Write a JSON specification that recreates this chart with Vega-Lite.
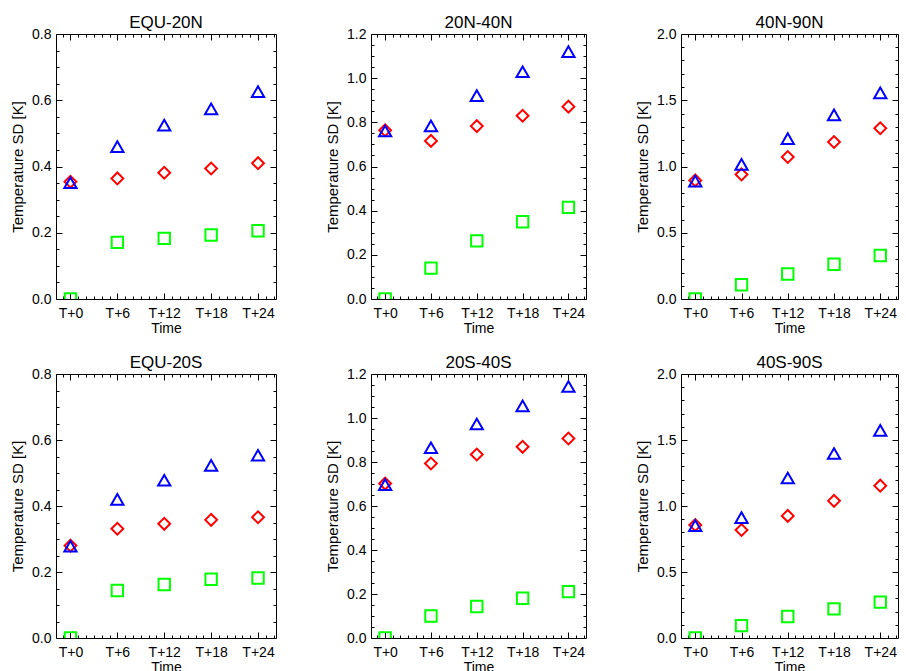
{
  "$schema": "https://vega.github.io/schema/vega-lite/v6.json",
  "padding": {"left": 10, "top": 13, "right": 0, "bottom": 0},
  "background": "white",
  "datasets": {
    "sd": [
      {"region": "EQU-20N", "series": "S3", "hour": 0, "sd": 0},
      {"region": "EQU-20N", "series": "S3", "hour": 6, "sd": 0.171},
      {"region": "EQU-20N", "series": "S3", "hour": 12, "sd": 0.183},
      {"region": "EQU-20N", "series": "S3", "hour": 18, "sd": 0.193},
      {"region": "EQU-20N", "series": "S3", "hour": 24, "sd": 0.206},
      {"region": "EQU-20N", "series": "S2", "hour": 0, "sd": 0.354},
      {"region": "EQU-20N", "series": "S2", "hour": 6, "sd": 0.364},
      {"region": "EQU-20N", "series": "S2", "hour": 12, "sd": 0.381},
      {"region": "EQU-20N", "series": "S2", "hour": 18, "sd": 0.394},
      {"region": "EQU-20N", "series": "S2", "hour": 24, "sd": 0.41},
      {"region": "EQU-20N", "series": "S1", "hour": 0, "sd": 0.351},
      {"region": "EQU-20N", "series": "S1", "hour": 6, "sd": 0.46},
      {"region": "EQU-20N", "series": "S1", "hour": 12, "sd": 0.525},
      {"region": "EQU-20N", "series": "S1", "hour": 18, "sd": 0.574},
      {"region": "EQU-20N", "series": "S1", "hour": 24, "sd": 0.626},
      {"region": "20N-40N", "series": "S3", "hour": 0, "sd": 0},
      {"region": "20N-40N", "series": "S3", "hour": 6, "sd": 0.14},
      {"region": "20N-40N", "series": "S3", "hour": 12, "sd": 0.263},
      {"region": "20N-40N", "series": "S3", "hour": 18, "sd": 0.35},
      {"region": "20N-40N", "series": "S3", "hour": 24, "sd": 0.415},
      {"region": "20N-40N", "series": "S2", "hour": 0, "sd": 0.764},
      {"region": "20N-40N", "series": "S2", "hour": 6, "sd": 0.716},
      {"region": "20N-40N", "series": "S2", "hour": 12, "sd": 0.783},
      {"region": "20N-40N", "series": "S2", "hour": 18, "sd": 0.83},
      {"region": "20N-40N", "series": "S2", "hour": 24, "sd": 0.871},
      {"region": "20N-40N", "series": "S1", "hour": 0, "sd": 0.761},
      {"region": "20N-40N", "series": "S1", "hour": 6, "sd": 0.784},
      {"region": "20N-40N", "series": "S1", "hour": 12, "sd": 0.921},
      {"region": "20N-40N", "series": "S1", "hour": 18, "sd": 1.029},
      {"region": "20N-40N", "series": "S1", "hour": 24, "sd": 1.12},
      {"region": "40N-90N", "series": "S3", "hour": 0, "sd": 0},
      {"region": "40N-90N", "series": "S3", "hour": 6, "sd": 0.108},
      {"region": "40N-90N", "series": "S3", "hour": 12, "sd": 0.189},
      {"region": "40N-90N", "series": "S3", "hour": 18, "sd": 0.262},
      {"region": "40N-90N", "series": "S3", "hour": 24, "sd": 0.328},
      {"region": "40N-90N", "series": "S2", "hour": 0, "sd": 0.895},
      {"region": "40N-90N", "series": "S2", "hour": 6, "sd": 0.94},
      {"region": "40N-90N", "series": "S2", "hour": 12, "sd": 1.072},
      {"region": "40N-90N", "series": "S2", "hour": 18, "sd": 1.185},
      {"region": "40N-90N", "series": "S2", "hour": 24, "sd": 1.289},
      {"region": "40N-90N", "series": "S1", "hour": 0, "sd": 0.89},
      {"region": "40N-90N", "series": "S1", "hour": 6, "sd": 1.016},
      {"region": "40N-90N", "series": "S1", "hour": 12, "sd": 1.21},
      {"region": "40N-90N", "series": "S1", "hour": 18, "sd": 1.39},
      {"region": "40N-90N", "series": "S1", "hour": 24, "sd": 1.556},
      {"region": "EQU-20S", "series": "S3", "hour": 0, "sd": 0},
      {"region": "EQU-20S", "series": "S3", "hour": 6, "sd": 0.144},
      {"region": "EQU-20S", "series": "S3", "hour": 12, "sd": 0.162},
      {"region": "EQU-20S", "series": "S3", "hour": 18, "sd": 0.178},
      {"region": "EQU-20S", "series": "S3", "hour": 24, "sd": 0.182},
      {"region": "EQU-20S", "series": "S2", "hour": 0, "sd": 0.28},
      {"region": "EQU-20S", "series": "S2", "hour": 6, "sd": 0.331},
      {"region": "EQU-20S", "series": "S2", "hour": 12, "sd": 0.346},
      {"region": "EQU-20S", "series": "S2", "hour": 18, "sd": 0.358},
      {"region": "EQU-20S", "series": "S2", "hour": 24, "sd": 0.366},
      {"region": "EQU-20S", "series": "S1", "hour": 0, "sd": 0.278},
      {"region": "EQU-20S", "series": "S1", "hour": 6, "sd": 0.42},
      {"region": "EQU-20S", "series": "S1", "hour": 12, "sd": 0.478},
      {"region": "EQU-20S", "series": "S1", "hour": 18, "sd": 0.523},
      {"region": "EQU-20S", "series": "S1", "hour": 24, "sd": 0.554},
      {"region": "20S-40S", "series": "S3", "hour": 0, "sd": 0},
      {"region": "20S-40S", "series": "S3", "hour": 6, "sd": 0.1},
      {"region": "20S-40S", "series": "S3", "hour": 12, "sd": 0.143},
      {"region": "20S-40S", "series": "S3", "hour": 18, "sd": 0.181},
      {"region": "20S-40S", "series": "S3", "hour": 24, "sd": 0.211},
      {"region": "20S-40S", "series": "S2", "hour": 0, "sd": 0.702},
      {"region": "20S-40S", "series": "S2", "hour": 6, "sd": 0.793},
      {"region": "20S-40S", "series": "S2", "hour": 12, "sd": 0.834},
      {"region": "20S-40S", "series": "S2", "hour": 18, "sd": 0.869},
      {"region": "20S-40S", "series": "S2", "hour": 24, "sd": 0.907},
      {"region": "20S-40S", "series": "S1", "hour": 0, "sd": 0.697},
      {"region": "20S-40S", "series": "S1", "hour": 6, "sd": 0.865},
      {"region": "20S-40S", "series": "S1", "hour": 12, "sd": 0.973},
      {"region": "20S-40S", "series": "S1", "hour": 18, "sd": 1.055},
      {"region": "20S-40S", "series": "S1", "hour": 24, "sd": 1.143},
      {"region": "40S-90S", "series": "S3", "hour": 0, "sd": 0},
      {"region": "40S-90S", "series": "S3", "hour": 6, "sd": 0.094},
      {"region": "40S-90S", "series": "S3", "hour": 12, "sd": 0.163},
      {"region": "40S-90S", "series": "S3", "hour": 18, "sd": 0.221},
      {"region": "40S-90S", "series": "S3", "hour": 24, "sd": 0.272},
      {"region": "40S-90S", "series": "S2", "hour": 0, "sd": 0.856},
      {"region": "40S-90S", "series": "S2", "hour": 6, "sd": 0.818},
      {"region": "40S-90S", "series": "S2", "hour": 12, "sd": 0.925},
      {"region": "40S-90S", "series": "S2", "hour": 18, "sd": 1.039},
      {"region": "40S-90S", "series": "S2", "hour": 24, "sd": 1.154},
      {"region": "40S-90S", "series": "S1", "hour": 0, "sd": 0.851},
      {"region": "40S-90S", "series": "S1", "hour": 6, "sd": 0.912},
      {"region": "40S-90S", "series": "S1", "hour": 12, "sd": 1.212},
      {"region": "40S-90S", "series": "S1", "hour": 18, "sd": 1.398},
      {"region": "40S-90S", "series": "S1", "hour": 24, "sd": 1.573}
    ]
  },
  "data": {"name": "sd"},
  "columns": 3,
  "align": "each",
  "spacing": {"row": 17, "column": 48},
  "concat": [
    {
      "title": "EQU-20N", "width": 220, "height": 265,
      "transform": [{"filter": {"field": "region", "equal": "EQU-20N"}}],
      "resolve": {"axis": {"x": "independent", "y": "independent"}},
      "layer": [
        {"mark": {"type": "point", "filled": false, "strokeWidth": 2, "clip": true, "opacity": 1},
         "encoding": {
           "x": {"field": "hour", "type": "quantitative", "scale": {"domain": [-1.85, 26.3], "nice": false, "zero": false}, "axis": {"orient": "bottom", "values": [0, 6, 12, 18, 24], "labelExpr": "'T+' + datum.value", "tickSize": -6, "labelPadding": 13, "title": "Time"}},
           "y": {"field": "sd", "type": "quantitative", "scale": {"domain": [0, 0.8], "nice": false, "zero": false}, "axis": {"orient": "left", "values": [0, 0.2, 0.4, 0.6, 0.8], "format": ".1f", "tickSize": -6, "labelPadding": 11, "title": "Temperature SD [K]"}},
           "shape": {"field": "series", "type": "nominal", "scale": {"domain": ["S1", "S2", "S3"], "range": ["triangle-up", "diamond", "square"]}, "legend": null},
           "color": {"field": "series", "type": "nominal", "scale": {"domain": ["S1", "S2", "S3"], "range": ["#0000ff", "#ff0000", "#00ff00"]}, "legend": null},
           "size": {"field": "series", "type": "nominal", "scale": {"domain": ["S1", "S2", "S3"], "range": [150, 130, 120]}, "legend": null}
         }},
        {"mark": {"type": "point", "opacity": 0},
         "encoding": {
           "x": {"field": "hour", "type": "quantitative", "scale": {"domain": [-1.85, 26.3], "nice": false, "zero": false}, "axis": {"orient": "bottom", "values": [-1, 1, 2, 3, 4, 5, 7, 8, 9, 10, 11, 13, 14, 15, 16, 17, 19, 20, 21, 22, 23, 25, 26], "labels": false, "title": null, "tickSize": -3}},
           "y": {"field": "sd", "type": "quantitative", "scale": {"domain": [0, 0.8], "nice": false, "zero": false}, "axis": {"orient": "left", "values": [0.05, 0.1, 0.15, 0.25, 0.3, 0.35, 0.45, 0.5, 0.55, 0.65, 0.7, 0.75], "labels": false, "title": null, "tickSize": -3}}
         }},
        {"mark": {"type": "point", "opacity": 0},
         "encoding": {
           "x": {"field": "hour", "type": "quantitative", "scale": {"domain": [-1.85, 26.3], "nice": false, "zero": false}, "axis": {"orient": "top", "values": [0, 6, 12, 18, 24], "labels": false, "title": null, "tickSize": -6}},
           "y": {"field": "sd", "type": "quantitative", "scale": {"domain": [0, 0.8], "nice": false, "zero": false}, "axis": {"orient": "right", "values": [0.2, 0.4, 0.6], "labels": false, "title": null, "tickSize": -6}}
         }},
        {"mark": {"type": "point", "opacity": 0},
         "encoding": {
           "x": {"field": "hour", "type": "quantitative", "scale": {"domain": [-1.85, 26.3], "nice": false, "zero": false}, "axis": {"orient": "top", "values": [-1, 1, 2, 3, 4, 5, 7, 8, 9, 10, 11, 13, 14, 15, 16, 17, 19, 20, 21, 22, 23, 25, 26], "labels": false, "title": null, "tickSize": -3}},
           "y": {"field": "sd", "type": "quantitative", "scale": {"domain": [0, 0.8], "nice": false, "zero": false}, "axis": {"orient": "right", "values": [0.05, 0.1, 0.15, 0.25, 0.3, 0.35, 0.45, 0.5, 0.55, 0.65, 0.7, 0.75], "labels": false, "title": null, "tickSize": -3}}
         }}
      ]
    },
    {
      "title": "20N-40N", "width": 215, "height": 265,
      "transform": [{"filter": {"field": "region", "equal": "20N-40N"}}],
      "resolve": {"axis": {"x": "independent", "y": "independent"}},
      "layer": [
        {"mark": {"type": "point", "filled": false, "strokeWidth": 2, "clip": true, "opacity": 1},
         "encoding": {
           "x": {"field": "hour", "type": "quantitative", "scale": {"domain": [-1.85, 26.3], "nice": false, "zero": false}, "axis": {"orient": "bottom", "values": [0, 6, 12, 18, 24], "labelExpr": "'T+' + datum.value", "tickSize": -6, "labelPadding": 13, "title": "Time"}},
           "y": {"field": "sd", "type": "quantitative", "scale": {"domain": [0, 1.2], "nice": false, "zero": false}, "axis": {"orient": "left", "values": [0, 0.2, 0.4, 0.6, 0.8, 1.0, 1.2], "format": ".1f", "tickSize": -6, "labelPadding": 11, "title": "Temperature SD [K]"}},
           "shape": {"field": "series", "type": "nominal", "scale": {"domain": ["S1", "S2", "S3"], "range": ["triangle-up", "diamond", "square"]}, "legend": null},
           "color": {"field": "series", "type": "nominal", "scale": {"domain": ["S1", "S2", "S3"], "range": ["#0000ff", "#ff0000", "#00ff00"]}, "legend": null},
           "size": {"field": "series", "type": "nominal", "scale": {"domain": ["S1", "S2", "S3"], "range": [150, 130, 120]}, "legend": null}
         }},
        {"mark": {"type": "point", "opacity": 0},
         "encoding": {
           "x": {"field": "hour", "type": "quantitative", "scale": {"domain": [-1.85, 26.3], "nice": false, "zero": false}, "axis": {"orient": "bottom", "values": [-1, 1, 2, 3, 4, 5, 7, 8, 9, 10, 11, 13, 14, 15, 16, 17, 19, 20, 21, 22, 23, 25, 26], "labels": false, "title": null, "tickSize": -3}},
           "y": {"field": "sd", "type": "quantitative", "scale": {"domain": [0, 1.2], "nice": false, "zero": false}, "axis": {"orient": "left", "values": [0.05, 0.1, 0.15, 0.25, 0.3, 0.35, 0.45, 0.5, 0.55, 0.65, 0.7, 0.75, 0.85, 0.9, 0.95, 1.05, 1.1, 1.15], "labels": false, "title": null, "tickSize": -3}}
         }},
        {"mark": {"type": "point", "opacity": 0},
         "encoding": {
           "x": {"field": "hour", "type": "quantitative", "scale": {"domain": [-1.85, 26.3], "nice": false, "zero": false}, "axis": {"orient": "top", "values": [0, 6, 12, 18, 24], "labels": false, "title": null, "tickSize": -6}},
           "y": {"field": "sd", "type": "quantitative", "scale": {"domain": [0, 1.2], "nice": false, "zero": false}, "axis": {"orient": "right", "values": [0.2, 0.4, 0.6, 0.8, 1.0], "labels": false, "title": null, "tickSize": -6}}
         }},
        {"mark": {"type": "point", "opacity": 0},
         "encoding": {
           "x": {"field": "hour", "type": "quantitative", "scale": {"domain": [-1.85, 26.3], "nice": false, "zero": false}, "axis": {"orient": "top", "values": [-1, 1, 2, 3, 4, 5, 7, 8, 9, 10, 11, 13, 14, 15, 16, 17, 19, 20, 21, 22, 23, 25, 26], "labels": false, "title": null, "tickSize": -3}},
           "y": {"field": "sd", "type": "quantitative", "scale": {"domain": [0, 1.2], "nice": false, "zero": false}, "axis": {"orient": "right", "values": [0.05, 0.1, 0.15, 0.25, 0.3, 0.35, 0.45, 0.5, 0.55, 0.65, 0.7, 0.75, 0.85, 0.9, 0.95, 1.05, 1.1, 1.15], "labels": false, "title": null, "tickSize": -3}}
         }}
      ]
    },
    {
      "title": "40N-90N", "width": 217, "height": 265,
      "transform": [{"filter": {"field": "region", "equal": "40N-90N"}}],
      "resolve": {"axis": {"x": "independent", "y": "independent"}},
      "layer": [
        {"mark": {"type": "point", "filled": false, "strokeWidth": 2, "clip": true, "opacity": 1},
         "encoding": {
           "x": {"field": "hour", "type": "quantitative", "scale": {"domain": [-1.85, 26.3], "nice": false, "zero": false}, "axis": {"orient": "bottom", "values": [0, 6, 12, 18, 24], "labelExpr": "'T+' + datum.value", "tickSize": -6, "labelPadding": 13, "title": "Time"}},
           "y": {"field": "sd", "type": "quantitative", "scale": {"domain": [0, 2.0], "nice": false, "zero": false}, "axis": {"orient": "left", "values": [0, 0.5, 1.0, 1.5, 2.0], "format": ".1f", "tickSize": -6, "labelPadding": 11, "title": "Temperature SD [K]"}},
           "shape": {"field": "series", "type": "nominal", "scale": {"domain": ["S1", "S2", "S3"], "range": ["triangle-up", "diamond", "square"]}, "legend": null},
           "color": {"field": "series", "type": "nominal", "scale": {"domain": ["S1", "S2", "S3"], "range": ["#0000ff", "#ff0000", "#00ff00"]}, "legend": null},
           "size": {"field": "series", "type": "nominal", "scale": {"domain": ["S1", "S2", "S3"], "range": [150, 130, 120]}, "legend": null}
         }},
        {"mark": {"type": "point", "opacity": 0},
         "encoding": {
           "x": {"field": "hour", "type": "quantitative", "scale": {"domain": [-1.85, 26.3], "nice": false, "zero": false}, "axis": {"orient": "bottom", "values": [-1, 1, 2, 3, 4, 5, 7, 8, 9, 10, 11, 13, 14, 15, 16, 17, 19, 20, 21, 22, 23, 25, 26], "labels": false, "title": null, "tickSize": -3}},
           "y": {"field": "sd", "type": "quantitative", "scale": {"domain": [0, 2.0], "nice": false, "zero": false}, "axis": {"orient": "left", "values": [0.1, 0.2, 0.3, 0.4, 0.6, 0.7, 0.8, 0.9, 1.1, 1.2, 1.3, 1.4, 1.6, 1.7, 1.8, 1.9], "labels": false, "title": null, "tickSize": -3}}
         }},
        {"mark": {"type": "point", "opacity": 0},
         "encoding": {
           "x": {"field": "hour", "type": "quantitative", "scale": {"domain": [-1.85, 26.3], "nice": false, "zero": false}, "axis": {"orient": "top", "values": [0, 6, 12, 18, 24], "labels": false, "title": null, "tickSize": -6}},
           "y": {"field": "sd", "type": "quantitative", "scale": {"domain": [0, 2.0], "nice": false, "zero": false}, "axis": {"orient": "right", "values": [0.5, 1.0, 1.5], "labels": false, "title": null, "tickSize": -6}}
         }},
        {"mark": {"type": "point", "opacity": 0},
         "encoding": {
           "x": {"field": "hour", "type": "quantitative", "scale": {"domain": [-1.85, 26.3], "nice": false, "zero": false}, "axis": {"orient": "top", "values": [-1, 1, 2, 3, 4, 5, 7, 8, 9, 10, 11, 13, 14, 15, 16, 17, 19, 20, 21, 22, 23, 25, 26], "labels": false, "title": null, "tickSize": -3}},
           "y": {"field": "sd", "type": "quantitative", "scale": {"domain": [0, 2.0], "nice": false, "zero": false}, "axis": {"orient": "right", "values": [0.1, 0.2, 0.3, 0.4, 0.6, 0.7, 0.8, 0.9, 1.1, 1.2, 1.3, 1.4, 1.6, 1.7, 1.8, 1.9], "labels": false, "title": null, "tickSize": -3}}
         }}
      ]
    },
    {
      "title": "EQU-20S", "width": 220, "height": 264,
      "transform": [{"filter": {"field": "region", "equal": "EQU-20S"}}],
      "resolve": {"axis": {"x": "independent", "y": "independent"}},
      "layer": [
        {"mark": {"type": "point", "filled": false, "strokeWidth": 2, "clip": true, "opacity": 1},
         "encoding": {
           "x": {"field": "hour", "type": "quantitative", "scale": {"domain": [-1.85, 26.3], "nice": false, "zero": false}, "axis": {"orient": "bottom", "values": [0, 6, 12, 18, 24], "labelExpr": "'T+' + datum.value", "tickSize": -6, "labelPadding": 13, "title": "Time"}},
           "y": {"field": "sd", "type": "quantitative", "scale": {"domain": [0, 0.8], "nice": false, "zero": false}, "axis": {"orient": "left", "values": [0, 0.2, 0.4, 0.6, 0.8], "format": ".1f", "tickSize": -6, "labelPadding": 11, "title": "Temperature SD [K]"}},
           "shape": {"field": "series", "type": "nominal", "scale": {"domain": ["S1", "S2", "S3"], "range": ["triangle-up", "diamond", "square"]}, "legend": null},
           "color": {"field": "series", "type": "nominal", "scale": {"domain": ["S1", "S2", "S3"], "range": ["#0000ff", "#ff0000", "#00ff00"]}, "legend": null},
           "size": {"field": "series", "type": "nominal", "scale": {"domain": ["S1", "S2", "S3"], "range": [150, 130, 120]}, "legend": null}
         }},
        {"mark": {"type": "point", "opacity": 0},
         "encoding": {
           "x": {"field": "hour", "type": "quantitative", "scale": {"domain": [-1.85, 26.3], "nice": false, "zero": false}, "axis": {"orient": "bottom", "values": [-1, 1, 2, 3, 4, 5, 7, 8, 9, 10, 11, 13, 14, 15, 16, 17, 19, 20, 21, 22, 23, 25, 26], "labels": false, "title": null, "tickSize": -3}},
           "y": {"field": "sd", "type": "quantitative", "scale": {"domain": [0, 0.8], "nice": false, "zero": false}, "axis": {"orient": "left", "values": [0.05, 0.1, 0.15, 0.25, 0.3, 0.35, 0.45, 0.5, 0.55, 0.65, 0.7, 0.75], "labels": false, "title": null, "tickSize": -3}}
         }},
        {"mark": {"type": "point", "opacity": 0},
         "encoding": {
           "x": {"field": "hour", "type": "quantitative", "scale": {"domain": [-1.85, 26.3], "nice": false, "zero": false}, "axis": {"orient": "top", "values": [0, 6, 12, 18, 24], "labels": false, "title": null, "tickSize": -6}},
           "y": {"field": "sd", "type": "quantitative", "scale": {"domain": [0, 0.8], "nice": false, "zero": false}, "axis": {"orient": "right", "values": [0.2, 0.4, 0.6], "labels": false, "title": null, "tickSize": -6}}
         }},
        {"mark": {"type": "point", "opacity": 0},
         "encoding": {
           "x": {"field": "hour", "type": "quantitative", "scale": {"domain": [-1.85, 26.3], "nice": false, "zero": false}, "axis": {"orient": "top", "values": [-1, 1, 2, 3, 4, 5, 7, 8, 9, 10, 11, 13, 14, 15, 16, 17, 19, 20, 21, 22, 23, 25, 26], "labels": false, "title": null, "tickSize": -3}},
           "y": {"field": "sd", "type": "quantitative", "scale": {"domain": [0, 0.8], "nice": false, "zero": false}, "axis": {"orient": "right", "values": [0.05, 0.1, 0.15, 0.25, 0.3, 0.35, 0.45, 0.5, 0.55, 0.65, 0.7, 0.75], "labels": false, "title": null, "tickSize": -3}}
         }}
      ]
    },
    {
      "title": "20S-40S", "width": 215, "height": 264,
      "transform": [{"filter": {"field": "region", "equal": "20S-40S"}}],
      "resolve": {"axis": {"x": "independent", "y": "independent"}},
      "layer": [
        {"mark": {"type": "point", "filled": false, "strokeWidth": 2, "clip": true, "opacity": 1},
         "encoding": {
           "x": {"field": "hour", "type": "quantitative", "scale": {"domain": [-1.85, 26.3], "nice": false, "zero": false}, "axis": {"orient": "bottom", "values": [0, 6, 12, 18, 24], "labelExpr": "'T+' + datum.value", "tickSize": -6, "labelPadding": 13, "title": "Time"}},
           "y": {"field": "sd", "type": "quantitative", "scale": {"domain": [0, 1.2], "nice": false, "zero": false}, "axis": {"orient": "left", "values": [0, 0.2, 0.4, 0.6, 0.8, 1.0, 1.2], "format": ".1f", "tickSize": -6, "labelPadding": 11, "title": "Temperature SD [K]"}},
           "shape": {"field": "series", "type": "nominal", "scale": {"domain": ["S1", "S2", "S3"], "range": ["triangle-up", "diamond", "square"]}, "legend": null},
           "color": {"field": "series", "type": "nominal", "scale": {"domain": ["S1", "S2", "S3"], "range": ["#0000ff", "#ff0000", "#00ff00"]}, "legend": null},
           "size": {"field": "series", "type": "nominal", "scale": {"domain": ["S1", "S2", "S3"], "range": [150, 130, 120]}, "legend": null}
         }},
        {"mark": {"type": "point", "opacity": 0},
         "encoding": {
           "x": {"field": "hour", "type": "quantitative", "scale": {"domain": [-1.85, 26.3], "nice": false, "zero": false}, "axis": {"orient": "bottom", "values": [-1, 1, 2, 3, 4, 5, 7, 8, 9, 10, 11, 13, 14, 15, 16, 17, 19, 20, 21, 22, 23, 25, 26], "labels": false, "title": null, "tickSize": -3}},
           "y": {"field": "sd", "type": "quantitative", "scale": {"domain": [0, 1.2], "nice": false, "zero": false}, "axis": {"orient": "left", "values": [0.05, 0.1, 0.15, 0.25, 0.3, 0.35, 0.45, 0.5, 0.55, 0.65, 0.7, 0.75, 0.85, 0.9, 0.95, 1.05, 1.1, 1.15], "labels": false, "title": null, "tickSize": -3}}
         }},
        {"mark": {"type": "point", "opacity": 0},
         "encoding": {
           "x": {"field": "hour", "type": "quantitative", "scale": {"domain": [-1.85, 26.3], "nice": false, "zero": false}, "axis": {"orient": "top", "values": [0, 6, 12, 18, 24], "labels": false, "title": null, "tickSize": -6}},
           "y": {"field": "sd", "type": "quantitative", "scale": {"domain": [0, 1.2], "nice": false, "zero": false}, "axis": {"orient": "right", "values": [0.2, 0.4, 0.6, 0.8, 1.0], "labels": false, "title": null, "tickSize": -6}}
         }},
        {"mark": {"type": "point", "opacity": 0},
         "encoding": {
           "x": {"field": "hour", "type": "quantitative", "scale": {"domain": [-1.85, 26.3], "nice": false, "zero": false}, "axis": {"orient": "top", "values": [-1, 1, 2, 3, 4, 5, 7, 8, 9, 10, 11, 13, 14, 15, 16, 17, 19, 20, 21, 22, 23, 25, 26], "labels": false, "title": null, "tickSize": -3}},
           "y": {"field": "sd", "type": "quantitative", "scale": {"domain": [0, 1.2], "nice": false, "zero": false}, "axis": {"orient": "right", "values": [0.05, 0.1, 0.15, 0.25, 0.3, 0.35, 0.45, 0.5, 0.55, 0.65, 0.7, 0.75, 0.85, 0.9, 0.95, 1.05, 1.1, 1.15], "labels": false, "title": null, "tickSize": -3}}
         }}
      ]
    },
    {
      "title": "40S-90S", "width": 217, "height": 264,
      "transform": [{"filter": {"field": "region", "equal": "40S-90S"}}],
      "resolve": {"axis": {"x": "independent", "y": "independent"}},
      "layer": [
        {"mark": {"type": "point", "filled": false, "strokeWidth": 2, "clip": true, "opacity": 1},
         "encoding": {
           "x": {"field": "hour", "type": "quantitative", "scale": {"domain": [-1.85, 26.3], "nice": false, "zero": false}, "axis": {"orient": "bottom", "values": [0, 6, 12, 18, 24], "labelExpr": "'T+' + datum.value", "tickSize": -6, "labelPadding": 13, "title": "Time"}},
           "y": {"field": "sd", "type": "quantitative", "scale": {"domain": [0, 2.0], "nice": false, "zero": false}, "axis": {"orient": "left", "values": [0, 0.5, 1.0, 1.5, 2.0], "format": ".1f", "tickSize": -6, "labelPadding": 11, "title": "Temperature SD [K]"}},
           "shape": {"field": "series", "type": "nominal", "scale": {"domain": ["S1", "S2", "S3"], "range": ["triangle-up", "diamond", "square"]}, "legend": null},
           "color": {"field": "series", "type": "nominal", "scale": {"domain": ["S1", "S2", "S3"], "range": ["#0000ff", "#ff0000", "#00ff00"]}, "legend": null},
           "size": {"field": "series", "type": "nominal", "scale": {"domain": ["S1", "S2", "S3"], "range": [150, 130, 120]}, "legend": null}
         }},
        {"mark": {"type": "point", "opacity": 0},
         "encoding": {
           "x": {"field": "hour", "type": "quantitative", "scale": {"domain": [-1.85, 26.3], "nice": false, "zero": false}, "axis": {"orient": "bottom", "values": [-1, 1, 2, 3, 4, 5, 7, 8, 9, 10, 11, 13, 14, 15, 16, 17, 19, 20, 21, 22, 23, 25, 26], "labels": false, "title": null, "tickSize": -3}},
           "y": {"field": "sd", "type": "quantitative", "scale": {"domain": [0, 2.0], "nice": false, "zero": false}, "axis": {"orient": "left", "values": [0.1, 0.2, 0.3, 0.4, 0.6, 0.7, 0.8, 0.9, 1.1, 1.2, 1.3, 1.4, 1.6, 1.7, 1.8, 1.9], "labels": false, "title": null, "tickSize": -3}}
         }},
        {"mark": {"type": "point", "opacity": 0},
         "encoding": {
           "x": {"field": "hour", "type": "quantitative", "scale": {"domain": [-1.85, 26.3], "nice": false, "zero": false}, "axis": {"orient": "top", "values": [0, 6, 12, 18, 24], "labels": false, "title": null, "tickSize": -6}},
           "y": {"field": "sd", "type": "quantitative", "scale": {"domain": [0, 2.0], "nice": false, "zero": false}, "axis": {"orient": "right", "values": [0.5, 1.0, 1.5], "labels": false, "title": null, "tickSize": -6}}
         }},
        {"mark": {"type": "point", "opacity": 0},
         "encoding": {
           "x": {"field": "hour", "type": "quantitative", "scale": {"domain": [-1.85, 26.3], "nice": false, "zero": false}, "axis": {"orient": "top", "values": [-1, 1, 2, 3, 4, 5, 7, 8, 9, 10, 11, 13, 14, 15, 16, 17, 19, 20, 21, 22, 23, 25, 26], "labels": false, "title": null, "tickSize": -3}},
           "y": {"field": "sd", "type": "quantitative", "scale": {"domain": [0, 2.0], "nice": false, "zero": false}, "axis": {"orient": "right", "values": [0.1, 0.2, 0.3, 0.4, 0.6, 0.7, 0.8, 0.9, 1.1, 1.2, 1.3, 1.4, 1.6, 1.7, 1.8, 1.9], "labels": false, "title": null, "tickSize": -3}}
         }}
      ]
    }
  ],
  "config": {
    "font": "Liberation Sans",
    "view": {"stroke": "black", "strokeWidth": 1},
    "title": {"font": "Liberation Sans", "fontSize": 17, "fontWeight": "normal", "color": "black", "offset": -5},
    "axis": {"domain": false, "grid": false, "ticks": true, "zindex": 1, "labelFont": "Liberation Sans", "labelFontSize": 14, "labelColor": "black", "titleFont": "Liberation Sans", "titleFontSize": 14, "titleFontWeight": "normal", "titleColor": "black", "tickColor": "black", "tickOpacity": 1, "tickWidth": 1, "minExtent": 0},
    "axisX": {"titlePadding": 1},
    "axisY": {"titlePadding": 6, "titleFontSize": 15}
  }
}
